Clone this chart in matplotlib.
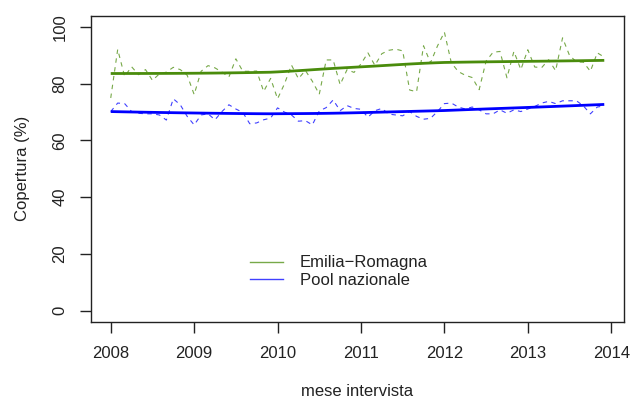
import numpy as np
import matplotlib
matplotlib.use("Agg")
import matplotlib.pyplot as plt

plt.rcParams['font.family'] = ['Liberation Sans', 'DejaVu Sans']

# ---- data (monthly coverage %, Jan 2008 .. Dec 2013) ----
start_year = 2008
n_months = 72
emilia_romagna = [
    75.0, 92.1, 82.6, 86.0, 83.2, 85.0, 81.2, 83.5, 84.1, 85.8, 85.0, 83.0,
    76.2, 84.4, 86.4, 85.6, 84.1, 82.4, 88.8, 84.4, 84.4, 84.5, 77.3, 81.9,
    74.7, 80.0, 86.6, 81.8, 84.7, 80.9, 76.3, 88.4, 88.4, 79.7, 85.0, 84.0,
    87.0, 90.9, 86.5, 90.6, 91.8, 92.2, 91.6, 77.8, 77.2, 93.4, 87.4, 93.3,
    98.2, 87.4, 84.3, 83.0, 82.2, 77.9, 88.0, 91.1, 91.4, 82.1, 91.4, 85.0,
    92.0, 85.9, 85.7, 88.5, 84.6, 96.2, 90.0, 87.7, 87.6, 84.4, 90.9, 89.4,
]
pool_nazionale = [
    70.2, 73.2, 73.0, 70.2, 69.6, 69.4, 69.4, 69.0, 67.2, 74.7, 72.6, 68.5,
    65.5, 69.0, 69.4, 67.3, 70.2, 72.6, 71.1, 69.9, 65.9, 66.2, 67.3, 67.9,
    71.5, 70.0, 69.0, 66.8, 67.0, 65.5, 70.4, 71.6, 74.3, 70.5, 72.3, 71.3,
    71.0, 68.2, 70.5, 71.3, 69.3, 69.0, 68.7, 70.2, 68.5, 67.5, 67.8, 70.2,
    73.0, 73.2, 71.8, 71.1, 71.8, 70.8, 69.4, 69.4, 70.8, 69.6, 70.8, 70.2,
    71.1, 72.0, 73.2, 73.8, 73.0, 74.0, 74.0, 74.0, 72.2, 69.4, 71.8, 72.2,
]
series_labels = ["Emilia\u2212Romagna", "Pool nazionale"]
series_colors = ["#4a8c0c", "#0000ff"]
x_ticks = [2008, 2009, 2010, 2011, 2012, 2013, 2014]
y_ticks = [0, 20, 40, 60, 80, 100]

x = start_year + np.arange(n_months) / 12.0


def lowess(xv, yv, f=2 / 3, iters=3):
    xv = np.asarray(xv, float)
    yv = np.asarray(yv, float)
    n = len(xv)
    r = int(np.ceil(f * n))
    h = np.array([np.sort(np.abs(xv - xv[i]))[r - 1] for i in range(n)])
    w = np.clip(np.abs((xv[:, None] - xv[None, :]) / h[None, :]), 0.0, 1.0)
    w = (1 - w ** 3) ** 3
    yest = np.zeros(n)
    delta = np.ones(n)
    for _ in range(iters + 1):
        for i in range(n):
            wt = delta * w[:, i]
            b = np.array([np.sum(wt * yv), np.sum(wt * yv * xv)])
            A = np.array([[np.sum(wt), np.sum(wt * xv)],
                          [np.sum(wt * xv), np.sum(wt * xv * xv)]])
            beta = np.linalg.solve(A, b)
            yest[i] = beta[0] + beta[1] * xv[i]
        res = yv - yest
        s = np.median(np.abs(res))
        delta = np.clip(res / (6.0 * s), -1, 1)
        delta = (1 - delta ** 2) ** 2
    return yest


fig = plt.figure(figsize=(6.31, 4.00), dpi=100)
ax = fig.add_axes([91 / 631, 78 / 400, 533 / 631, 306.3 / 400])

handles = []
for vals, lab, col in zip([emilia_romagna, pool_nazionale], series_labels, series_colors):
    ax.plot(x, vals, color=col, lw=0.8, ls=(0, (4, 4)), alpha=0.75)
    ax.plot(x, lowess(x, vals), color=col, lw=2.0, solid_capstyle='butt')
    h, = ax.plot([], [], color=col, lw=1.0, alpha=0.75, label=lab)
    handles.append(h)

rng = x[-1] - x[0]
ax.set_xlim(x[0] - 0.04 * rng, x[-1] + 0.04 * rng)
ax.set_ylim(0 - 4, 100 + 4)
ax.set_xticks(x_ticks)
ax.set_xticklabels([str(v) for v in x_ticks])
ax.set_yticks(y_ticks)
ax.set_yticklabels([str(v) for v in y_ticks])
ax.tick_params(axis='both', direction='out', length=8, width=1.0, color='#222222',
               labelsize=12, labelcolor='#222222')
ax.tick_params(axis='x', pad=9)
ax.tick_params(axis='y', pad=9)
for lab in ax.get_yticklabels():
    lab.set_rotation(90)
    lab.set_va('center')
    lab.set_ha('right')
for sp in ax.spines.values():
    sp.set_linewidth(1.0)
    sp.set_color('#222222')

ax.set_ylabel("Copertura (%)", fontsize=12, color='#222222', labelpad=16)
fig.text(357.5 / 631, 1 / 400, "mese intervista", ha='center', va='bottom',
         fontsize=12, color='#222222')

leg = ax.legend(handles=handles, loc='center left',
                bbox_to_anchor=(250 / 631, (400 - 271.7) / 400),
                bbox_transform=fig.transFigure, frameon=False, fontsize=12,
                handlelength=2.0, handletextpad=1.0, labelspacing=0.15,
                borderpad=0, borderaxespad=0)
for t in leg.get_texts():
    t.set_color('#222222')

fig.savefig("out.png", dpi=100)
